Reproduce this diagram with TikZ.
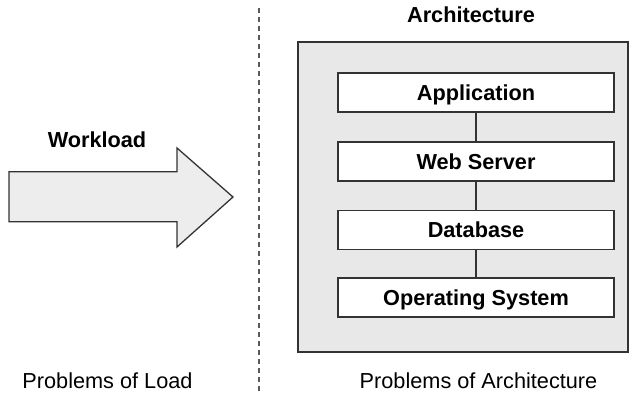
\documentclass[tikz,border=0pt]{standalone}
\usepackage{fontspec}
\setmainfont{Liberation Sans}
\begin{document}
\begin{tikzpicture}[x=1pt,y=-1pt,
  lbl/.style={font=\fontsize{21.7}{26}\selectfont, inner sep=0pt},
  blbl/.style={font=\fontsize{21.7}{26}\selectfont\bfseries, inner sep=0pt},
  layer/.style={draw=black!80, line width=1.3pt, fill=white, minimum width=276pt, minimum height=39pt,
     font=\fontsize{21.7}{26}\selectfont\bfseries, text height=15.6pt, text depth=0pt, inner sep=0pt},
  link/.style={draw=black!80, line width=1.3pt}]
\useasboundingbox (0,0) rectangle (631,395);
% outer architecture box
\node[draw=black!80, line width=1.3pt, fill=black!9, minimum width=330pt, minimum height=310pt, inner sep=0pt] (arch) at (463,197) {};
\node[blbl, anchor=base] (archlbl) at (471,23) {Architecture};
% layers
\node[layer] (app) at (476,92.5) {Application};
\node[layer] (web) at (476,161.5) {Web Server};
\node[layer] (db) at (476,230) {Database};
\node[layer] (os) at (476,297.5) {Operating System};
\draw[link] (app) -- (web);
\draw[link] (web) -- (db);
\draw[link] (db) -- (os);
% workload arrow
\draw[draw=black!80, line width=1.3pt, fill=black!7, line join=miter]
  (9,171.7) -- (177,171.7) -- (177,148) -- (233,197) -- (177,247) -- (177,221.7) -- (9,221.7) -- cycle;
\node[blbl, anchor=base] (wl) at (97,148) {Workload};
% dashed divider
\coordinate (dtop) at (259,8);
\coordinate (dbot) at (259,395);
\draw[black!65, line width=2pt, dash pattern=on 5pt off 4pt] (dtop) -- (dbot);
% bottom labels
\node[lbl, anchor=base] (pl) at (107.5,388) {Problems of Load};
\node[lbl, anchor=base] (pa) at (478.5,388) {Problems of Architecture};
\end{tikzpicture}
\end{document}
